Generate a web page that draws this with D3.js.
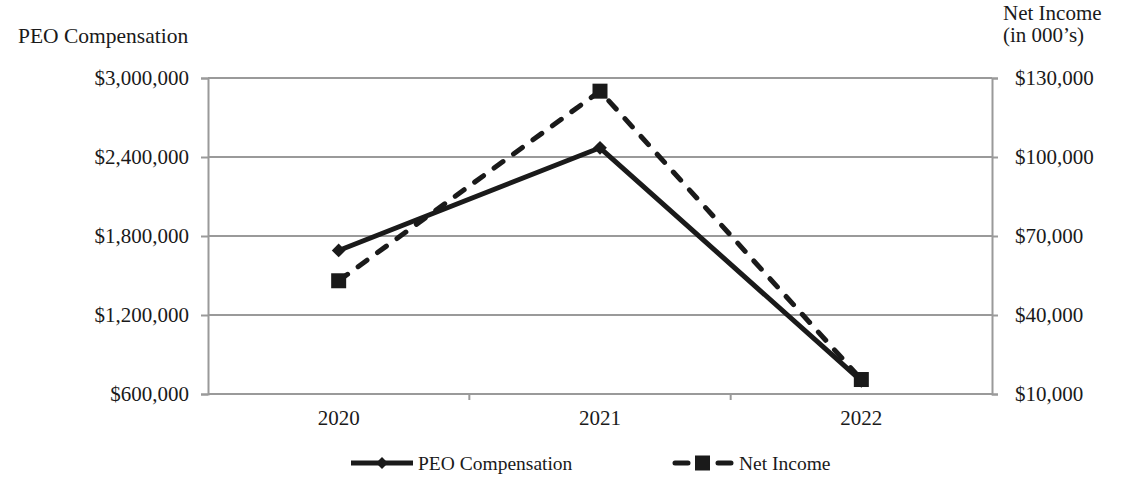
<!DOCTYPE html>
<html><head><meta charset="utf-8">
<script src="https://cdn.jsdelivr.net/npm/d3@7"></script>
<style>body{margin:0;background:#fff}svg{display:block}text{font-family:"Liberation Serif","Times New Roman",serif;fill:#1a1a1a}</style>
</head><body>
<svg id="c" width="1136" height="486"></svg>
<script>
const years = ["2020","2021","2022"];
const peoComp = [1690000, 2470000, 700000];
const netIncome = [53000, 125000, 15500];
const leftTicks = [600000, 1200000, 1800000, 2400000, 3000000];
const rightTicks = [10000, 40000, 70000, 100000, 130000];

const svg = d3.select("#c");
const L = 208, R = 992, T = 78, B = 394;
const x = d3.scaleBand().domain(years).range([L, R]);
const yL = d3.scaleLinear().domain([600000, 3000000]).range([B, T]);
const yR = d3.scaleLinear().domain([10000, 130000]).range([B, T]);
const fmt = d3.format("$,");
const ink = "#1a1a1a", grid = "#9a9a9a";
const FONT = '"Liberation Serif","Times New Roman",serif';

// gridlines
svg.append("g").selectAll("line").data(leftTicks.slice(1)).join("line")
  .attr("x1", L).attr("x2", R).attr("y1", d => yL(d)).attr("y2", d => yL(d))
  .attr("stroke", grid).attr("stroke-width", 2);

const gL = svg.append("g").attr("transform", `translate(${L},0)`)
  .call(d3.axisLeft(yL).tickValues(leftTicks).tickFormat(fmt).tickSize(7).tickPadding(12));
const gR = svg.append("g").attr("transform", `translate(${R},0)`)
  .call(d3.axisRight(yR).tickValues(rightTicks).tickFormat(fmt).tickSize(6).tickPadding(17));
const gB = svg.append("g").attr("transform", `translate(0,${B})`)
  .call(d3.axisBottom(x).tickSize(0).tickPadding(16));
svg.append("g").selectAll("line").data(years.slice(1)).join("line")
  .attr("x1", d => x(d)).attr("x2", d => x(d)).attr("y1", B).attr("y2", B + 6)
  .attr("stroke", grid).attr("stroke-width", 2);

[gL, gR, gB].forEach(g => {
  g.attr("font-family", FONT).attr("font-size", 21);
  g.selectAll(".domain").attr("stroke", grid).attr("stroke-width", 2);
  g.selectAll(".tick line").attr("stroke", grid).attr("stroke-width", 2);
  g.selectAll("text").attr("fill", ink);
});
gB.select(".domain").attr("d", `M${L},0H${R}`);

const cx = d => x(d) + x.bandwidth() / 2;

// Net income dashed line
svg.append("path").datum(netIncome)
  .attr("d", d3.line().x((d, i) => cx(years[i])).y(d => yR(d)))
  .attr("fill", "none").attr("stroke", ink).attr("stroke-width", 5)
  .attr("stroke-linecap", "round").attr("stroke-dasharray", "11,13");
svg.append("g").selectAll("rect").data(netIncome).join("rect")
  .attr("x", (d, i) => cx(years[i]) - 7.5).attr("y", d => yR(d) - 7.5)
  .attr("width", 15).attr("height", 15).attr("fill", ink);

// PEO solid line
svg.append("path").datum(peoComp)
  .attr("d", d3.line().x((d, i) => cx(years[i])).y(d => yL(d)))
  .attr("fill", "none").attr("stroke", ink).attr("stroke-width", 5);
svg.append("g").selectAll("path").data(peoComp).join("path")
  .attr("d", d3.symbol(d3.symbolDiamond2, 120))
  .attr("transform", (d, i) => `translate(${cx(years[i])},${yL(d)})`)
  .attr("fill", ink);

// axis titles
svg.append("text").attr("x", 18).attr("y", 43).attr("font-size", 21.5).text("PEO Compensation");
svg.append("text").attr("x", 1003).attr("y", 20).attr("font-size", 21).text("Net Income");
svg.append("text").attr("x", 1003).attr("y", 42).attr("font-size", 21).text("(in 000\u2019s)");

// legend
const ly = 463;
svg.append("line").attr("x1", 351).attr("x2", 413).attr("y1", ly).attr("y2", ly)
  .attr("stroke", ink).attr("stroke-width", 5);
svg.append("path").attr("d", d3.symbol(d3.symbolDiamond2, 90))
  .attr("transform", `translate(382,${ly})`).attr("fill", ink);
svg.append("text").attr("x", 418).attr("y", ly + 7).attr("font-size", 19.5).text("PEO Compensation");

svg.append("line").attr("x1", 675).attr("x2", 731).attr("y1", ly).attr("y2", ly)
  .attr("stroke", ink).attr("stroke-width", 5).attr("stroke-linecap", "round")
  .attr("stroke-dasharray", "13,30,13");
svg.append("rect").attr("x", 695).attr("y", ly - 7.5).attr("width", 15).attr("height", 15).attr("fill", ink);
svg.append("text").attr("x", 739).attr("y", ly + 7).attr("font-size", 19.5).text("Net Income");
</script>
</body></html>
